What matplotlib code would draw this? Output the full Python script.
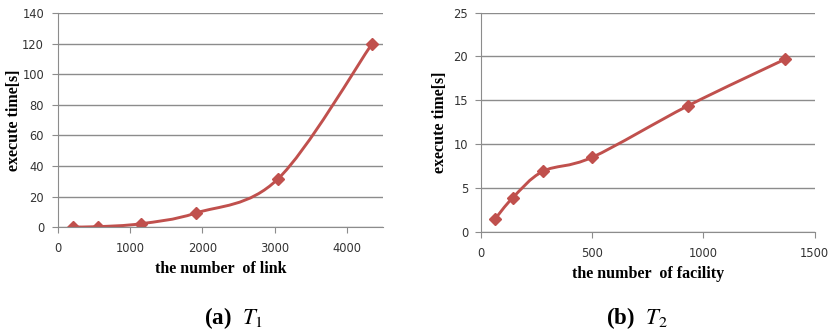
import matplotlib
matplotlib.use("Agg")
import matplotlib.pyplot as plt
import numpy as np
from matplotlib.path import Path
from matplotlib.patches import PathPatch

##------DATA-----------------------------------------------------------
link_x = [203, 557, 1144, 1909, 3047, 4352]
link_y = [0.1, 0.3, 2.2, 9.2, 31.5, 120]
fac_x = [63, 145, 280, 501, 933, 1368]
fac_y = [1.4, 3.9, 6.9, 8.5, 14.4, 19.7]

LINE = "#C0504D"
GRID = "#8C8C8C"
plt.rcParams['mathtext.fontset'] = 'stix'


def smooth_path(xs, ys):
    # excel style smoothed line: bezier segments through the points
    pts = np.column_stack([xs, ys]).astype(float)
    n = len(pts)
    verts = [pts[0]]
    codes = [Path.MOVETO]
    for i in range(n - 1):
        p0 = pts[i - 1] if i > 0 else pts[i]
        p1 = pts[i]
        p2 = pts[i + 1]
        p3 = pts[i + 2] if i + 2 < n else pts[i + 1]
        c1 = p1 + (p2 - p0) / 6.0
        c2 = p2 - (p3 - p1) / 6.0
        verts += [c1, c2, p2]
        codes += [Path.CURVE4] * 3
    return Path(verts, codes)


def setup(ax, xlim, xticks, ylim, yticks, xlabel, ypad, ylab_x):
    ax.set_xlim(*xlim)
    ax.set_ylim(*ylim)
    ax.set_xticks(xticks)
    ax.set_yticks(yticks)
    for s in ['top', 'right']:
        ax.spines[s].set_visible(False)
    ax.spines['left'].set_color(GRID)
    ax.spines['bottom'].set_color(GRID)
    ax.yaxis.grid(True, color=GRID, linewidth=1.0)
    ax.set_axisbelow(True)
    ax.tick_params(axis='both', length=4, color=GRID, labelsize=8.3, labelcolor='#333333')
    ax.tick_params(axis='x', pad=7)
    ax.tick_params(axis='y', pad=ypad)
    for lab in ax.get_xticklabels() + ax.get_yticklabels():
        lab.set_fontfamily('DejaVu Sans')
    ax.set_xlabel(xlabel, family='Liberation Serif', fontweight='bold', fontsize=11.5, labelpad=4)
    ax.set_ylabel('execute time[s]', family='Liberation Serif', fontweight='bold', fontsize=11.5)
    ax.yaxis.set_label_coords(ylab_x, 0.5)


fig = plt.figure(figsize=(8.33, 3.33), dpi=100)
ax1 = fig.add_axes([0.0696, 0.318, 0.390, 0.643])
ax2 = fig.add_axes([0.577, 0.304, 0.401, 0.658])

setup(ax1, (0, 4500), [0, 1000, 2000, 3000, 4000], (0, 140), range(0, 141, 20), 'the number  of link', 6, -0.112)
setup(ax2, (0, 1500), [0, 500, 1000, 1500], (0, 25), range(0, 26, 5), 'the number  of facility', 5, -0.099)

for ax, xs, ys in [(ax1, link_x, link_y), (ax2, fac_x, fac_y)]:
    ax.add_patch(PathPatch(smooth_path(xs, ys), facecolor='none', edgecolor=LINE, linewidth=2.1))
    ax.plot(xs, ys, linestyle='none', marker='D', markersize=6, color=LINE)

fig.text(0.280, 0.028, r'(a)  $T_1$', family='Liberation Serif', fontweight='bold', fontsize=16.5, ha='center', va='baseline')
fig.text(0.764, 0.028, r'(b)  $T_2$', family='Liberation Serif', fontweight='bold', fontsize=16.5, ha='center', va='baseline')

plt.savefig('out.png', dpi=100)
